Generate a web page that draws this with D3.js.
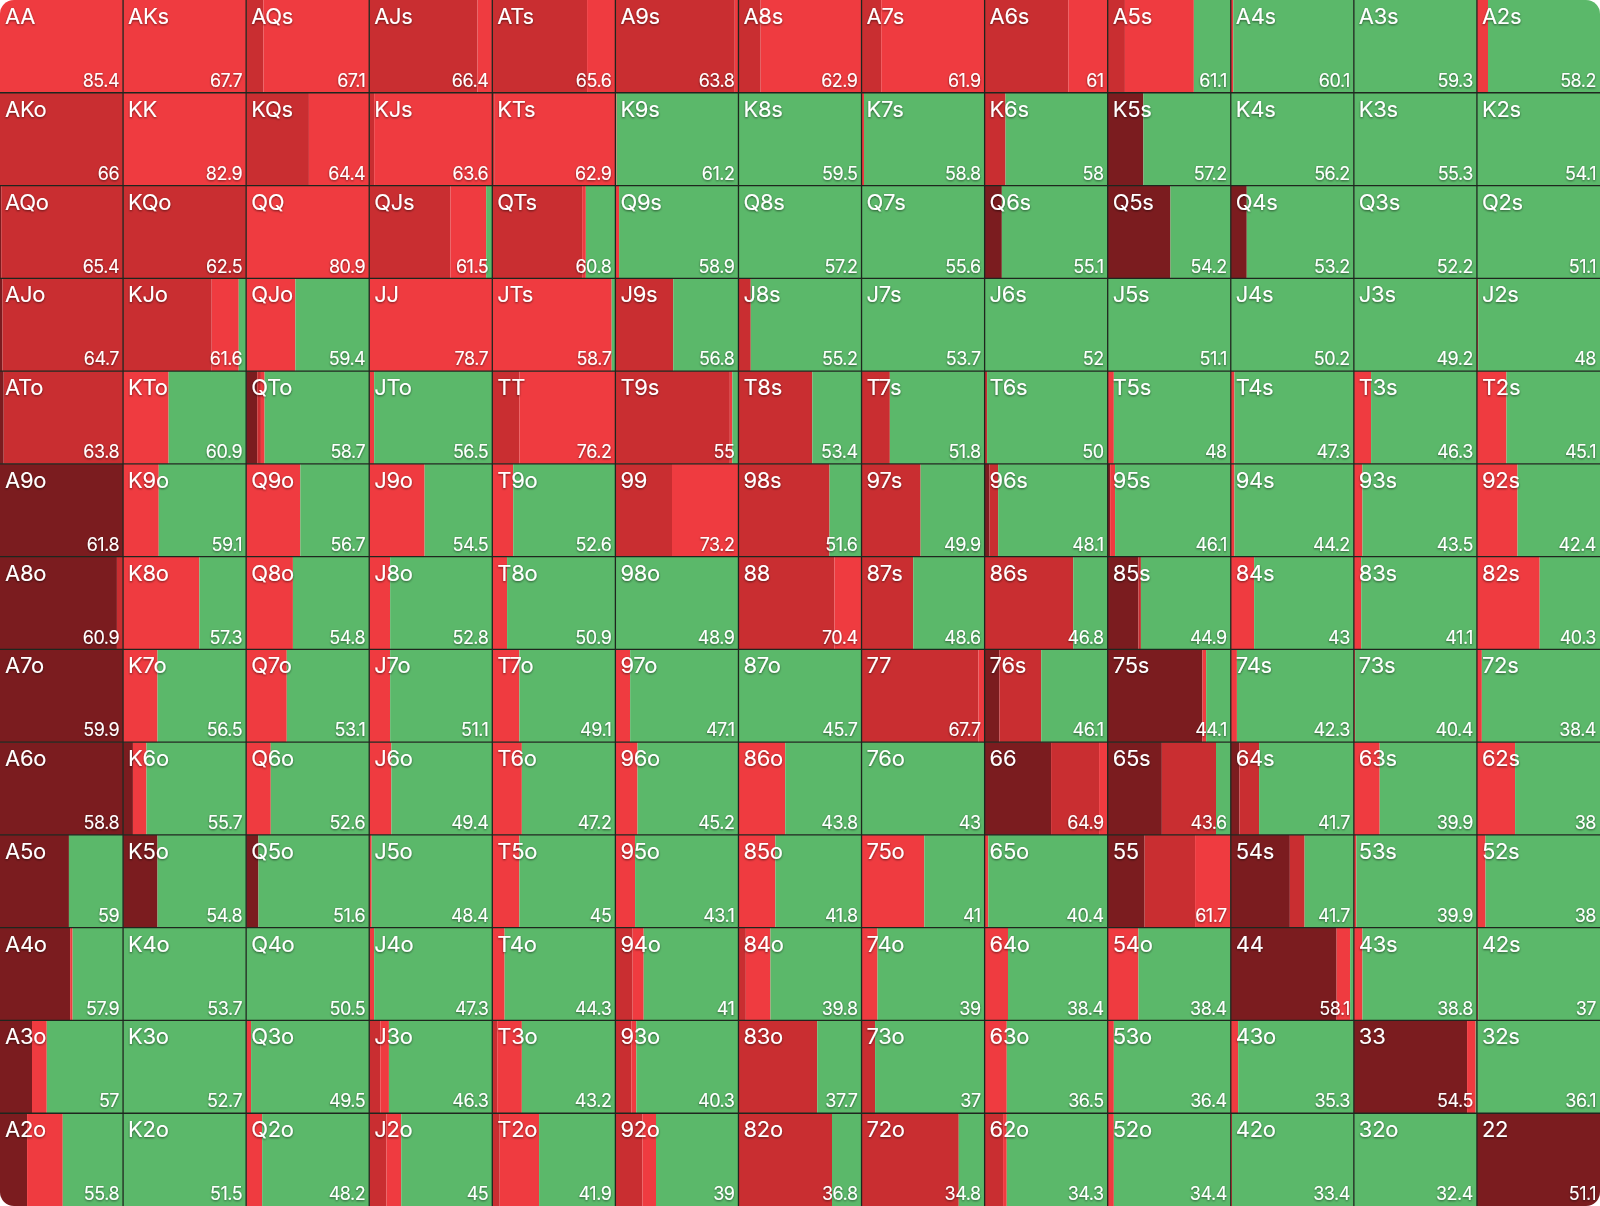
<!DOCTYPE html>
<html>
<head>
<meta charset="utf-8">
<script src="https://cdn.jsdelivr.net/npm/d3@7"></script>
<style>
  body { margin: 0; background: #ffffff; }
  svg { display: block; }
  .lbl, .val { fill: #ffffff; font-family: Inter, 'Noto Sans', sans-serif; }
  .lbl { font-size: 22px; letter-spacing: -0.3px; filter: url(#shadow); }
  .val { font-size: 18px; letter-spacing: -0.5px; filter: url(#shadow); }
</style>
</head>
<body>
<script>
const width = 1600;
const height = 1206;

const ranks = ['A', 'K', 'Q', 'J', 'T', '9', '8', '7', '6', '5', '4', '3', '2'];

// equity per cell, row by row
const equity = [
  [85.4, 67.7, 67.1, 66.4, 65.6, 63.8, 62.9, 61.9, 61, 61.1, 60.1, 59.3, 58.2],
  [66, 82.9, 64.4, 63.6, 62.9, 61.2, 59.5, 58.8, 58, 57.2, 56.2, 55.3, 54.1],
  [65.4, 62.5, 80.9, 61.5, 60.8, 58.9, 57.2, 55.6, 55.1, 54.2, 53.2, 52.2, 51.1],
  [64.7, 61.6, 59.4, 78.7, 58.7, 56.8, 55.2, 53.7, 52, 51.1, 50.2, 49.2, 48],
  [63.8, 60.9, 58.7, 56.5, 76.2, 55, 53.4, 51.8, 50, 48, 47.3, 46.3, 45.1],
  [61.8, 59.1, 56.7, 54.5, 52.6, 73.2, 51.6, 49.9, 48.1, 46.1, 44.2, 43.5, 42.4],
  [60.9, 57.3, 54.8, 52.8, 50.9, 48.9, 70.4, 48.6, 46.8, 44.9, 43, 41.1, 40.3],
  [59.9, 56.5, 53.1, 51.1, 49.1, 47.1, 45.7, 67.7, 46.1, 44.1, 42.3, 40.4, 38.4],
  [58.8, 55.7, 52.6, 49.4, 47.2, 45.2, 43.8, 43, 64.9, 43.6, 41.7, 39.9, 38],
  [59, 54.8, 51.6, 48.4, 45, 43.1, 41.8, 41, 40.4, 61.7, 41.7, 39.9, 38],
  [57.9, 53.7, 50.5, 47.3, 44.3, 41, 39.8, 39, 38.4, 38.4, 58.1, 38.8, 37],
  [57, 52.7, 49.5, 46.3, 43.2, 40.3, 37.7, 37, 36.5, 36.4, 35.3, 54.5, 36.1],
  [55.8, 51.5, 48.2, 45, 41.9, 39, 36.8, 34.8, 34.3, 34.4, 33.4, 32.4, 51.1]
];

// action mix per cell in percent: [dark, mid, bright, green]
const mix = [
  [[0,0,100,0],[0,0,100,0],[0,14,86,0],[0,88,12,0],[0,77,23,0],[0,97,3,0],[0,18,82,0],[0,16,84,0],[0,68,32,0],[0,14,56,30],[0,0,2,98],[0,0,0,100],[0,0,9,91]],
  [[0,100,0,0],[0,0,100,0],[0,51,49,0],[0,4,96,0],[0,2,98,0],[0,0,1,99],[0,0,0,100],[0,0,2,98],[0,17,0,83],[29,0,0,71],[0,0,0,100],[0,0,0,100],[0,0,0,100]],
  [[1,99,0,0],[0,100,0,0],[0,0,100,0],[0,66,29,5],[0,73,3,24],[0,0,3,97],[0,0,0,100],[0,0,0,100],[14,0,0,86],[51,0,0,49],[13,0,0,87],[0,0,0,100],[0,0,0,100]],
  [[2,98,0,0],[0,72,22,6],[0,0,40,60],[0,0,100,0],[0,0,97,3],[0,47,0,53],[0,10,0,90],[0,0,0,100],[0,0,0,100],[0,0,0,100],[0,0,0,100],[0,0,0,100],[0,0,1,99]],
  [[3,97,0,0],[0,0,37,63],[9,3,3,85],[0,0,4,96],[0,22,78,0],[0,93,2,5],[0,60,0,40],[0,23,0,77],[0,2,0,98],[0,0,5,95],[0,0,3,97],[0,0,14,86],[0,0,24,76]],
  [[100,0,0,0],[0,0,29,71],[0,0,44,56],[0,0,45,55],[0,0,17,83],[0,46,54,0],[0,74,0,26],[0,48,0,52],[4,7,0,89],[2,0,4,94],[0,0,3,97],[0,0,7,93],[0,0,33,67]],
  [[95,5,0,0],[0,0,62,38],[0,0,38,62],[0,0,17,83],[0,0,12,88],[0,0,0,100],[0,78,22,0],[0,42,0,58],[0,72,0,28],[25,2,0,73],[0,0,19,81],[0,0,6,94],[0,0,51,49]],
  [[100,0,0,0],[0,0,28,72],[0,0,33,67],[0,0,17,83],[0,0,22,78],[0,0,12,88],[0,0,0,100],[0,95,5,0],[12,34,0,54],[77,0,3,20],[0,0,5,95],[0,0,1,99],[0,0,4,96]],
  [[100,0,0,0],[8,0,11,81],[0,0,20,80],[0,0,18,82],[0,0,24,76],[0,0,18,82],[0,0,38,62],[0,0,0,100],[54,39,7,0],[44,44,0,12],[7,16,0,77],[0,0,21,79],[0,0,31,69]],
  [[56,0,0,44],[28,0,0,72],[10,0,0,90],[0,0,2,98],[0,0,22,78],[0,0,16,84],[0,0,30,70],[0,0,51,49],[0,0,3,97],[30,41,29,0],[48,12,0,40],[0,0,2,98],[0,0,7,93]],
  [[57,0,2,41],[0,0,0,100],[0,0,0,100],[0,0,4,96],[0,0,10,90],[0,14,9,77],[0,6,20,74],[0,0,13,87],[0,0,19,81],[0,0,25,75],[86,0,11,3],[0,0,7,93],[0,0,1,99]],
  [[26,0,12,62],[0,0,0,100],[0,0,4,96],[0,9,7,84],[0,4,20,76],[0,13,4,83],[0,64,0,36],[0,11,0,89],[0,0,18,82],[0,0,5,95],[0,0,6,94],[92,0,7,1],[0,0,0,100]],
  [[22,0,29,49],[0,0,0,100],[0,0,13,87],[0,14,12,74],[0,6,32,62],[0,22,11,67],[0,76,0,24],[0,79,0,21],[0,15,3,82],[0,0,5,95],[0,0,1,99],[0,0,0,100],[100,0,0,0]]
];

const actions = ['dark', 'mid', 'bright', 'green'];
const colors = {
  dark: '#7b1c1f',
  mid: '#c92e31',
  bright: '#ef3b40',
  green: '#5bb86a',
};

function handLabel(r, c) {
  if (r === c) return ranks[r] + ranks[c];
  if (c > r) return ranks[r] + ranks[c] + 's';
  return ranks[c] + ranks[r] + 'o';
}

const cells = [];
ranks.forEach((_, r) => {
  ranks.forEach((_, c) => {
    const m = mix[r][c];
    cells.push({
      row: r,
      col: c,
      label: handLabel(r, c),
      equity: equity[r][c],
      dark: m[0],
      mid: m[1],
      bright: m[2],
      green: m[3],
    });
  });
});

const xScale = d3.scaleBand(d3.range(13), [0, width]);
const yScale = d3.scaleBand(d3.range(13), [0, height]);
const share = d3.scaleLinear([0, 100], [0, xScale.bandwidth()]);

const stacked = d3.stack().keys(actions)(cells);

const svg = d3
  .select('body')
  .append('svg')
  .attr('width', width)
  .attr('height', height);

const defs = svg.append('defs');
defs
  .append('clipPath')
  .attr('id', 'round')
  .append('rect')
  .attr('width', width)
  .attr('height', height)
  .attr('rx', 14);
defs
  .append('filter')
  .attr('id', 'shadow')
  .attr('x', '-20%')
  .attr('y', '-20%')
  .attr('width', '140%')
  .attr('height', '140%')
  .append('feDropShadow')
  .attr('dx', 0)
  .attr('dy', 1)
  .attr('stdDeviation', 1)
  .attr('flood-color', '#000')
  .attr('flood-opacity', 0.55);

const board = svg.append('g').attr('clip-path', 'url(#round)');

board
  .selectAll('.layer')
  .data(stacked)
  .enter()
  .append('g')
  .attr('class', 'layer')
  .attr('fill', d => colors[d.key])
  .selectAll('rect')
  .data(d => d)
  .enter()
  .append('rect')
  .attr('x', d => xScale(d.data.col) + share(d[0]))
  .attr('y', d => yScale(d.data.row))
  .attr('width', d => share(d[1]) - share(d[0]))
  .attr('height', yScale.bandwidth());

// grid lines
board
  .selectAll('.vline')
  .data(d3.range(1, 13))
  .enter()
  .append('line')
  .attr('x1', d => xScale(d))
  .attr('x2', d => xScale(d))
  .attr('y1', 0)
  .attr('y2', height)
  .attr('stroke', '#1e261e')
  .attr('stroke-width', 1.3);

board
  .selectAll('.hline')
  .data(d3.range(1, 13))
  .enter()
  .append('line')
  .attr('y1', d => yScale(d))
  .attr('y2', d => yScale(d))
  .attr('x1', 0)
  .attr('x2', width)
  .attr('stroke', '#1e261e')
  .attr('stroke-width', 1.3);

const text = board
  .selectAll('.cell-text')
  .data(cells)
  .enter()
  .append('g')
  .attr('class', 'cell-text')
  .attr('transform', d => `translate(${xScale(d.col)}, ${yScale(d.row)})`);

text
  .append('text')
  .attr('class', 'lbl')
  .attr('x', 5)
  .attr('y', 24)
  .text(d => d.label);

text
  .append('text')
  .attr('class', 'val')
  .attr('x', xScale.bandwidth() - 4)
  .attr('y', 87)
  .attr('text-anchor', 'end')
  .text(d => d.equity);
</script>
</body>
</html>
